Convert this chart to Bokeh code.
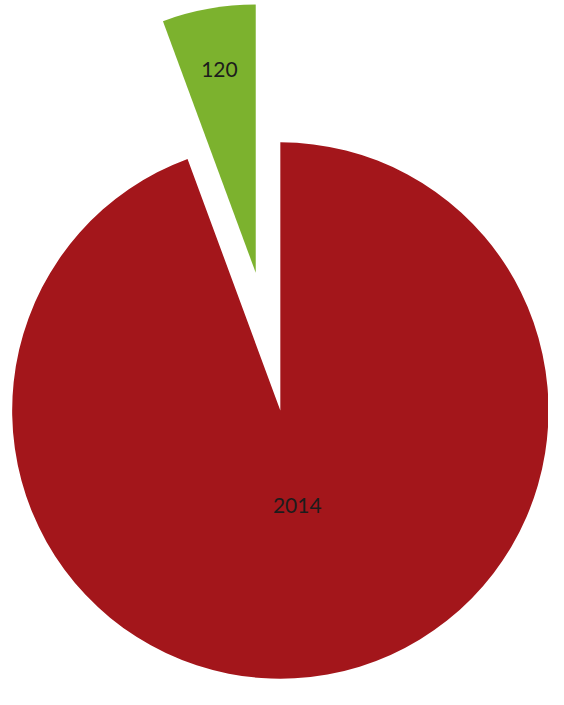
import math
from bokeh.plotting import figure
from bokeh.models import Range1d, ColumnDataSource
from bokeh.core.properties import value
from bokeh.embed import file_html
from bokeh.resources import INLINE

labels = ["2014", "120"]
values = [2014, 120]
colors = ["#A3161B", "#7CB22E"]
explode = [0, 144]
label_frac = [0.36, 0.77]

W, H = 548, 689
scale = W / 564.0
yspan = H / scale
p = figure(width=W, height=H, output_backend="svg", toolbar_location=None,
           x_range=Range1d(0, 564), y_range=Range1d(705 - yspan, 705),
           min_border=0)
p.axis.visible = False
p.grid.visible = False
p.outline_line_color = None
p.background_fill_color = "white"

cx, cy, r = 288, 705 - 422, 276
total = sum(values)
green_ang = values[1] / total * 2 * math.pi
starts = [math.pi / 2 + green_ang, math.pi / 2]
ends = [math.pi / 2 + 2 * math.pi, math.pi / 2 + green_ang]

xs, ys, lx, ly = [], [], [], []
for i in range(2):
    mid = (starts[i] + ends[i]) / 2
    ox = cx + explode[i] * math.cos(mid)
    oy = cy + explode[i] * math.sin(mid)
    xs.append(ox)
    ys.append(oy)
    lx.append(ox + label_frac[i] * r * math.cos(mid))
    ly.append(oy + label_frac[i] * r * math.sin(mid))

src = ColumnDataSource(dict(x=xs, y=ys, start=starts, end=ends, color=colors,
                            lx=lx, ly=ly, label=labels))
p.wedge(x="x", y="y", radius=r, start_angle="start", end_angle="end",
        fill_color="color", line_color=None, source=src)
p.text(x="lx", y="ly", text="label", source=src, text_align="center",
       text_baseline="middle", text_font=value("Lato"), text_font_size="21px",
       text_color="#1c1c1c")

open("out.html", "w").write(file_html(p, INLINE))
